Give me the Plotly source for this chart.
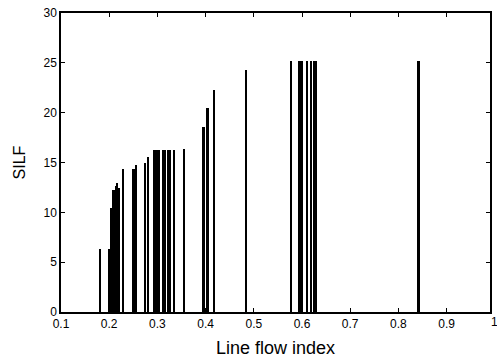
import plotly.graph_objects as go

line_flow_index = [0.182, 0.199, 0.201, 0.205, 0.208, 0.211, 0.214, 0.217, 0.220,
                   0.230, 0.249, 0.252, 0.256, 0.274, 0.281,
                   0.294, 0.297, 0.300, 0.303, 0.311, 0.317, 0.322, 0.327, 0.334,
                   0.356, 0.394, 0.398, 0.403, 0.406, 0.418, 0.484,
                   0.577, 0.595, 0.598, 0.601, 0.610, 0.619, 0.626, 0.630,
                   0.840, 0.843]
silf = [6.3, 6.3, 0.5, 10.4, 12.2, 12.2, 12.6, 12.9, 12.4,
        14.3, 14.3, 14.3, 14.7, 15.0, 15.6,
        16.3, 16.3, 16.3, 16.3, 16.3, 16.3, 16.3, 16.3, 16.3,
        16.4, 18.6, 18.6, 20.5, 20.5, 22.3, 24.3,
        25.2, 25.2, 25.2, 25.2, 25.2, 25.2, 25.2, 25.2,
        25.2, 25.2]
x_ticks = [0.1, 0.2, 0.3, 0.4, 0.5, 0.6, 0.7, 0.8, 0.9]
x_tick_text = ["0.1", "0.2", "0.3", "0.4", "0.5", "0.6", "0.7", "0.8", "0.9"]
y_ticks = [0, 5, 10, 15, 20, 25, 30]
x_range = [0.1, 0.99]

fig = go.Figure()
fig.add_trace(go.Bar(x=line_flow_index, y=silf, width=0.0028,
                     marker=dict(color="black", line=dict(width=0))))

font = "Liberation Sans, Arial, sans-serif"
fig.update_layout(
    width=497, height=363,
    margin=dict(l=61, r=5, t=13, b=51),
    paper_bgcolor="white", plot_bgcolor="white",
    showlegend=False,
    font=dict(family=font, size=12, color="black"),
    bargap=0,
)
# the last tick label ("1") sits just past the clipped right edge
fig.add_annotation(x=(1 - x_range[0]) / (x_range[1] - x_range[0]), xref="paper",
                   y=0, yref="paper", yanchor="top", yshift=-1, xanchor="center",
                   text="1", showarrow=False, font=dict(family=font, size=12))
fig.update_xaxes(range=x_range, tickvals=x_ticks, ticktext=x_tick_text,
                 ticks="inside", ticklen=4, tickcolor="black", tickwidth=1,
                 showline=True, linecolor="black", linewidth=1.5, mirror="allticks",
                 showgrid=False, zeroline=False,
                 tickfont=dict(family=font, size=12),
                 title=dict(text="Line flow index", font=dict(family=font, size=18), standoff=11))
fig.update_yaxes(range=[0, 30], tickvals=y_ticks,
                 ticks="inside", ticklen=4, tickcolor="black", tickwidth=1,
                 showline=True, linecolor="black", linewidth=1.5, mirror="allticks",
                 showgrid=False, zeroline=False,
                 tickfont=dict(family=font, size=12),
                 title=dict(text="SILF", font=dict(family=font, size=16), standoff=14))
fig.write_html("out.html")
